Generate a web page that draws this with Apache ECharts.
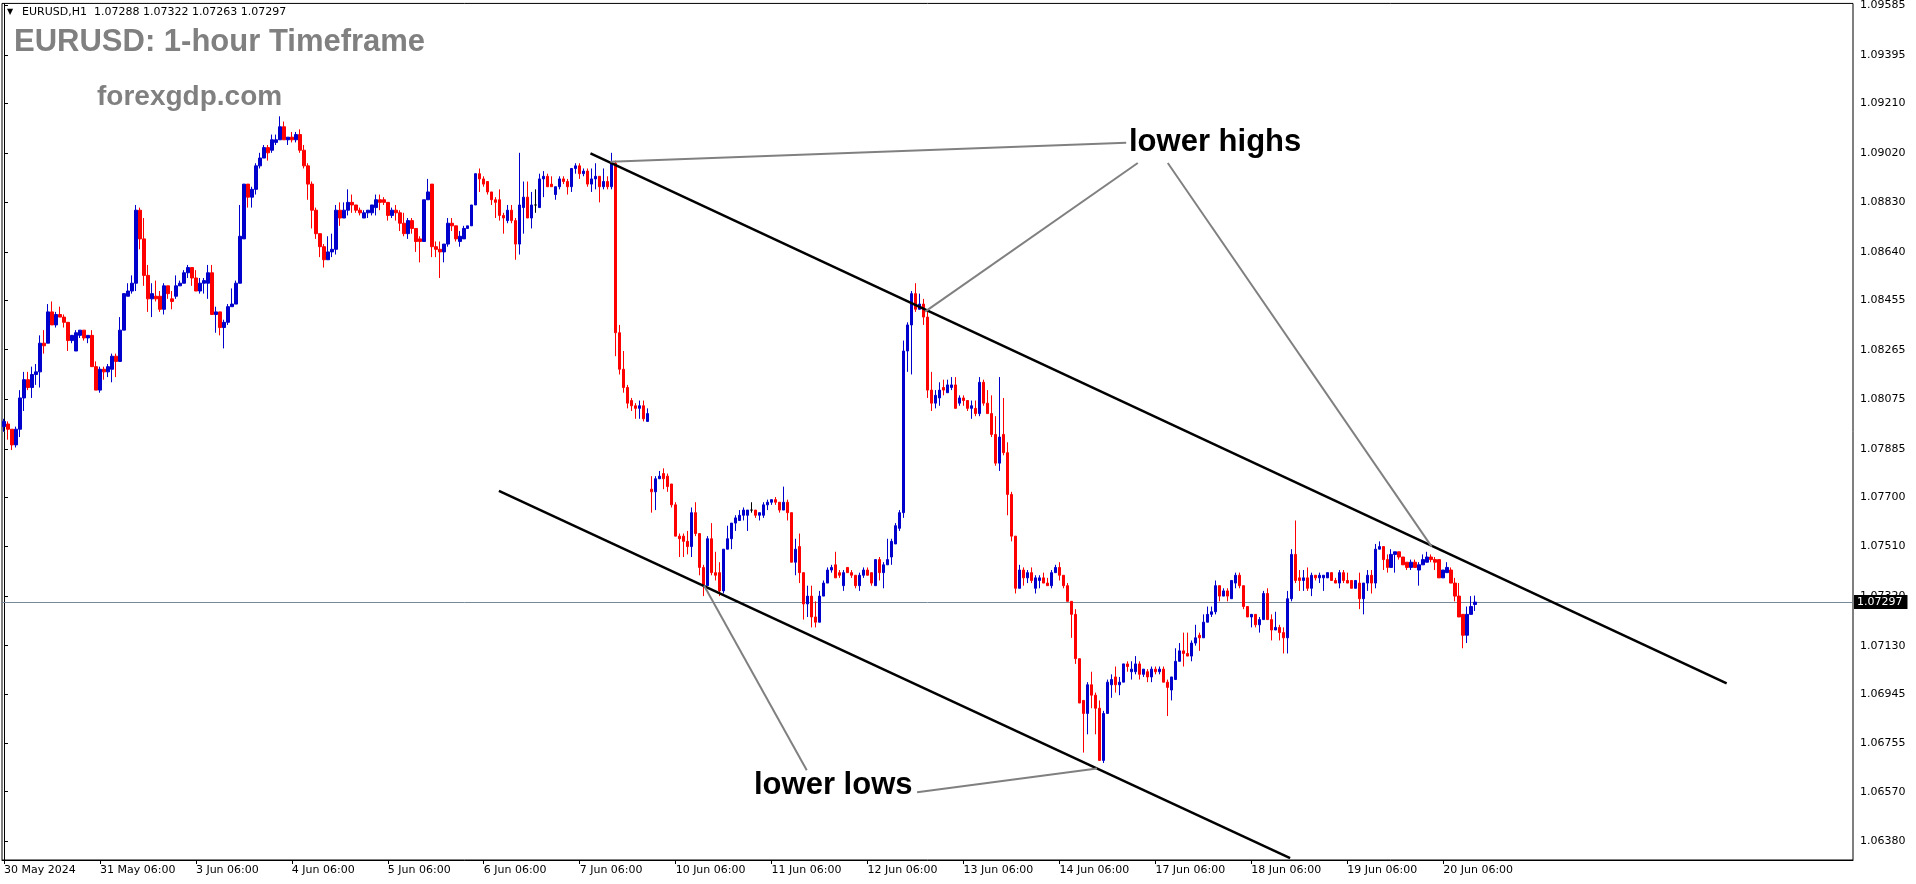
<!DOCTYPE html>
<html><head><meta charset="utf-8">
<script src="https://cdn.jsdelivr.net/npm/echarts@6/dist/echarts.min.js"></script>
<style>html,body{margin:0;padding:0;background:#fff;overflow:hidden}#chart{width:1916px;height:884px}</style>
</head><body><div id="chart"></div>
<script>
// Hourly EURUSD candles per trading day, each row: [open, close, low, high]
const d30May = [
[1.0797,1.0799,1.0795,1.0800],[1.0798,1.0796,1.0792,1.0799],[1.0796,1.0790,1.0788,1.0796],[1.0790,1.0796,1.0789,1.0797],
[1.0796,1.0808,1.0793,1.0811],[1.0808,1.0815,1.0803,1.0818],[1.0815,1.0812,1.0811,1.0818],[1.0812,1.0817,1.0808,1.0820],
[1.0817,1.0818,1.0813,1.0821],[1.0818,1.0829,1.0812,1.0832],[1.0829,1.0828,1.0825,1.0834],[1.0829,1.0841,1.0829,1.0844],
[1.0841,1.0836,1.0836,1.0845],[1.0836,1.0840,1.0835,1.0841],[1.0840,1.0839,1.0839,1.0843],[1.0839,1.0837,1.0835,1.0840],
[1.0837,1.0830,1.0826,1.0837],[1.0830,1.0832,1.0829,1.0832]];
const d31May = [
[1.0826,1.0833,1.0826,1.0834],[1.0832,1.0834,1.0831,1.0834],[1.0834,1.0831,1.0830,1.0834],[1.0831,1.0832,1.0829,1.0832],
[1.0832,1.0820,1.0820,1.0834],[1.0820,1.0811,1.0811,1.0822],[1.0811,1.0819,1.0810,1.0820],[1.0819,1.0818,1.0815,1.0820],
[1.0818,1.0820,1.0816,1.0821],[1.0819,1.0824,1.0814,1.0825],[1.0824,1.0822,1.0816,1.0825],[1.0822,1.0834,1.0822,1.0839],
[1.0834,1.0848,1.0834,1.0848],[1.0847,1.0849,1.0847,1.0852],[1.0849,1.0852,1.0848,1.0855],[1.0852,1.0880,1.0849,1.0882],
[1.0880,1.0869,1.0865,1.0881],[1.0869,1.0855,1.0851,1.0877],[1.0855,1.0846,1.0841,1.0859],[1.0846,1.0848,1.0839,1.0852],
[1.0847,1.0846,1.0845,1.0853],[1.0847,1.0842,1.0841,1.0849],[1.0842,1.0851,1.0840,1.0852],[1.0851,1.0848,1.0846,1.0851]];
const d3Jun = [
[1.0846,1.0845,1.0842,1.0849],[1.0847,1.0851,1.0846,1.0855],[1.0851,1.0852,1.0851,1.0853],[1.0852,1.0856,1.0852,1.0857],
[1.0856,1.0858,1.0854,1.0859],[1.0858,1.0854,1.0851,1.0858],[1.0854,1.0849,1.0849,1.0857],[1.0849,1.0852,1.0848,1.0854],
[1.0852,1.0853,1.0848,1.0854],[1.0852,1.0856,1.0846,1.0859],[1.0856,1.0840,1.0840,1.0859],[1.0840,1.0841,1.0833,1.0843],
[1.0841,1.0835,1.0832,1.0841],[1.0835,1.0837,1.0827,1.0838],[1.0837,1.0843,1.0836,1.0844],[1.0843,1.0844,1.0843,1.0850],
[1.0844,1.0852,1.0844,1.0853],[1.0852,1.0870,1.0852,1.0882],[1.0869,1.0890,1.0869,1.0890],[1.0890,1.0885,1.0881,1.0890],
[1.0885,1.0888,1.0881,1.0889],[1.0888,1.0897,1.0886,1.0898],[1.0897,1.0900,1.0896,1.0902],[1.0900,1.0904,1.0900,1.0905]];
const d4Jun = [
[1.0904,1.0902,1.0899,1.0905],[1.0903,1.0907,1.0902,1.0909],[1.0906,1.0907,1.0905,1.0909],[1.0907,1.0912,1.0907,1.0916],
[1.0912,1.0907,1.0907,1.0914],[1.0907,1.0908,1.0905,1.0908],[1.0908,1.0907,1.0906,1.0910],[1.0907,1.0909,1.0906,1.0910],
[1.0909,1.0903,1.0902,1.0911],[1.0903,1.0897,1.0896,1.0905],[1.0897,1.0890,1.0884,1.0898],[1.0890,1.0880,1.0873,1.0891],
[1.0880,1.0871,1.0869,1.0881],[1.0871,1.0866,1.0862,1.0871],[1.0866,1.0861,1.0858,1.0867],[1.0861,1.0864,1.0861,1.0870],
[1.0864,1.0865,1.0862,1.0871],[1.0865,1.0880,1.0863,1.0882],[1.0880,1.0877,1.0874,1.0883],[1.0877,1.0880,1.0877,1.0883],
[1.0880,1.0883,1.0878,1.0888],[1.0883,1.0882,1.0879,1.0886],[1.0882,1.0880,1.0879,1.0882],[1.0880,1.0879,1.0878,1.0881]];
const d5Jun = [
[1.0877,1.0879,1.0877,1.0880],[1.0879,1.0880,1.0877,1.0880],[1.0879,1.0882,1.0878,1.0882],[1.0881,1.0884,1.0878,1.0886],
[1.0884,1.0883,1.0880,1.0886],[1.0884,1.0883,1.0882,1.0885],[1.0883,1.0878,1.0876,1.0883],[1.0878,1.0880,1.0877,1.0881],
[1.0880,1.0879,1.0876,1.0882],[1.0879,1.0875,1.0872,1.0880],[1.0875,1.0871,1.0870,1.0879],[1.0871,1.0876,1.0869,1.0877],
[1.0876,1.0873,1.0871,1.0877],[1.0873,1.0868,1.0864,1.0873],[1.0869,1.0868,1.0860,1.0870],[1.0868,1.0884,1.0868,1.0884],
[1.0884,1.0887,1.0884,1.0892],[1.0890,1.0866,1.0862,1.0890],[1.0866,1.0865,1.0862,1.0868],[1.0865,1.0864,1.0854,1.0868],
[1.0864,1.0867,1.0860,1.0867],[1.0867,1.0875,1.0866,1.0877],[1.0875,1.0874,1.0872,1.0877],[1.0874,1.0869,1.0868,1.0874]];
const d6Jun = [
[1.0868,1.0870,1.0866,1.0872],[1.0869,1.0873,1.0869,1.0874],[1.0873,1.0874,1.0873,1.0874],[1.0874,1.0882,1.0874,1.0882],
[1.0882,1.0894,1.0882,1.0894],[1.0894,1.0892,1.0887,1.0896],[1.0892,1.0890,1.0889,1.0893],[1.0891,1.0887,1.0886,1.0891],
[1.0887,1.0884,1.0882,1.0887],[1.0884,1.0883,1.0877,1.0885],[1.0884,1.0878,1.0876,1.0888],[1.0878,1.0877,1.0871,1.0879],
[1.0876,1.0880,1.0875,1.0882],[1.0880,1.0876,1.0875,1.0882],[1.0876,1.0867,1.0861,1.0877],[1.0867,1.0882,1.0863,1.0902],
[1.0881,1.0885,1.0871,1.0891],[1.0885,1.0877,1.0877,1.0891],[1.0877,1.0882,1.0873,1.0887],[1.0882,1.0882,1.0879,1.0888],
[1.0881,1.0892,1.0881,1.0894],[1.0892,1.0893,1.0885,1.0895],[1.0893,1.0889,1.0889,1.0894],[1.0890,1.0889,1.0889,1.0893]];
const d7Jun = [
[1.0886,1.0889,1.0884,1.0889],[1.0889,1.0892,1.0888,1.0893],[1.0892,1.0891,1.0890,1.0893],[1.0891,1.0889,1.0886,1.0892],
[1.0889,1.0896,1.0887,1.0896],[1.0896,1.0897,1.0894,1.0898],[1.0897,1.0894,1.0892,1.0898],[1.0894,1.0895,1.0893,1.0896],
[1.0895,1.0890,1.0889,1.0896],[1.0890,1.0892,1.0887,1.0896],[1.0892,1.0893,1.0888,1.0898],[1.0893,1.0889,1.0883,1.0893],
[1.0889,1.0891,1.0888,1.0896],[1.0891,1.0889,1.0888,1.0893],[1.0889,1.0898,1.0888,1.0902],[1.0898,1.0833,1.0824,1.0899],
[1.0833,1.0819,1.0817,1.0836],[1.0819,1.0812,1.0810,1.0826],[1.0812,1.0806,1.0804,1.0813],[1.0807,1.0805,1.0803,1.0808],
[1.0805,1.0804,1.0800,1.0806],[1.0804,1.0805,1.0800,1.0807],[1.0805,1.0800,1.0799,1.0807],[1.0799,1.0802,1.0799,1.0804]];
const d10Jun = [
[1.0773,1.0772,1.0764,1.0778],[1.0772,1.0777,1.0765,1.0778],[1.0777,1.0778,1.0777,1.0780],[1.0779,1.0777,1.0773,1.0781],
[1.0778,1.0774,1.0772,1.0779],[1.0775,1.0767,1.0766,1.0775],[1.0767,1.0755,1.0755,1.0768],[1.0755,1.0754,1.0747,1.0756],
[1.0755,1.0753,1.0747,1.0756],[1.0753,1.0751,1.0748,1.0757],[1.0751,1.0764,1.0747,1.0766],[1.0764,1.0756,1.0755,1.0768],
[1.0756,1.0743,1.0740,1.0756],[1.0743,1.0736,1.0732,1.0744],[1.0736,1.0754,1.0736,1.0755],[1.0754,1.0741,1.0740,1.0760],
[1.0741,1.0740,1.0738,1.0749],[1.0741,1.0734,1.0732,1.0745],[1.0734,1.0750,1.0733,1.0750],[1.0750,1.0754,1.0750,1.0759],
[1.0754,1.0760,1.0750,1.0760],[1.0760,1.0762,1.0757,1.0763],[1.0761,1.0763,1.0761,1.0765],[1.0763,1.0765,1.0761,1.0766]];
const d11Jun = [
[1.0763,1.0765,1.0757,1.0765],[1.0765,1.0765,1.0764,1.0768],[1.0765,1.0763,1.0762,1.0765],[1.0763,1.0764,1.0761,1.0764],
[1.0763,1.0767,1.0762,1.0768],[1.0767,1.0768,1.0765,1.0769],[1.0768,1.0769,1.0767,1.0769],[1.0769,1.0768,1.0767,1.0770],
[1.0768,1.0765,1.0764,1.0768],[1.0765,1.0768,1.0765,1.0774],[1.0768,1.0764,1.0761,1.0769],[1.0764,1.0745,1.0745,1.0764],
[1.0745,1.0750,1.0740,1.0754],[1.0751,1.0741,1.0737,1.0756],[1.0741,1.0729,1.0723,1.0741],[1.0729,1.0732,1.0724,1.0736],
[1.0732,1.0724,1.0720,1.0736],[1.0724,1.0722,1.0720,1.0730],[1.0722,1.0732,1.0722,1.0734],[1.0732,1.0737,1.0732,1.0738],
[1.0737,1.0742,1.0737,1.0743],[1.0742,1.0743,1.0741,1.0744],[1.0744,1.0739,1.0739,1.0749],[1.0741,1.0740,1.0739,1.0742]];
const d12Jun = [
[1.0736,1.0741,1.0734,1.0742],[1.0743,1.0741,1.0741,1.0743],[1.0741,1.0740,1.0739,1.0742],[1.0740,1.0736,1.0735,1.0740],
[1.0736,1.0740,1.0734,1.0741],[1.0740,1.0742,1.0739,1.0743],[1.0742,1.0740,1.0740,1.0743],[1.0741,1.0737,1.0736,1.0741],
[1.0736,1.0746,1.0736,1.0746],[1.0746,1.0741,1.0738,1.0747],[1.0741,1.0744,1.0735,1.0745],[1.0744,1.0746,1.0744,1.0754],
[1.0747,1.0753,1.0744,1.0754],[1.0752,1.0759,1.0752,1.0760],[1.0758,1.0764,1.0757,1.0765],[1.0764,1.0826,1.0762,1.0830],
[1.0826,1.0836,1.0818,1.0837],[1.0836,1.0848,1.0817,1.0849],[1.0848,1.0842,1.0841,1.0852],[1.0842,1.0844,1.0842,1.0848],
[1.0844,1.0839,1.0836,1.0846],[1.0839,1.0811,1.0808,1.0841],[1.0811,1.0806,1.0803,1.0818],[1.0806,1.0809,1.0804,1.0811]];
const d13Jun = [
[1.0808,1.0811,1.0805,1.0814],[1.0812,1.0811,1.0809,1.0815],[1.0810,1.0813,1.0810,1.0815],[1.0812,1.0813,1.0811,1.0816],
[1.0813,1.0804,1.0804,1.0816],[1.0806,1.0808,1.0805,1.0809],[1.0808,1.0807,1.0805,1.0809],[1.0807,1.0804,1.0803,1.0807],
[1.0804,1.0805,1.0800,1.0807],[1.0804,1.0802,1.0801,1.0807],[1.0802,1.0814,1.0801,1.0816],[1.0814,1.0806,1.0805,1.0815],
[1.0806,1.0802,1.0802,1.0811],[1.0802,1.0794,1.0793,1.0809],[1.0794,1.0783,1.0782,1.0801],[1.0783,1.0793,1.0780,1.0816],
[1.0794,1.0787,1.0786,1.0808],[1.0787,1.0771,1.0763,1.0791],[1.0771,1.0755,1.0753,1.0772],[1.0755,1.0735,1.0733,1.0755],
[1.0735,1.0742,1.0735,1.0744],[1.0742,1.0739,1.0736,1.0743],[1.0739,1.0741,1.0737,1.0742],[1.0741,1.0738,1.0737,1.0743]];
const d14Jun = [
[1.0735,1.0739,1.0733,1.0740],[1.0738,1.0739,1.0735,1.0740],[1.0739,1.0737,1.0737,1.0741],[1.0737,1.0736,1.0736,1.0739],
[1.0736,1.0741,1.0735,1.0742],[1.0741,1.0743,1.0741,1.0744],[1.0743,1.0740,1.0738,1.0745],[1.0740,1.0736,1.0735,1.0740],
[1.0736,1.0730,1.0730,1.0737],[1.0730,1.0725,1.0716,1.0730],[1.0725,1.0708,1.0706,1.0727],[1.0708,1.0691,1.0691,1.0708],
[1.0692,1.0687,1.0672,1.0692],[1.0687,1.0698,1.0679,1.0699],[1.0698,1.0694,1.0689,1.0703],[1.0694,1.0689,1.0679,1.0695],
[1.0689,1.0669,1.0669,1.0692],[1.0669,1.0687,1.0668,1.0688],[1.0687,1.0699,1.0687,1.0700],[1.0698,1.0700,1.0693,1.0702],
[1.0701,1.0698,1.0695,1.0705],[1.0698,1.0699,1.0694,1.0701],[1.0699,1.0706,1.0699,1.0706],[1.0706,1.0705,1.0703,1.0707]];
const d17Jun = [
[1.0703,1.0704,1.0700,1.0707],[1.0703,1.0706,1.0702,1.0709],[1.0706,1.0702,1.0700,1.0707],[1.0702,1.0704,1.0701,1.0704],
[1.0703,1.0701,1.0699,1.0704],[1.0701,1.0704,1.0699,1.0705],[1.0704,1.0703,1.0702,1.0705],[1.0703,1.0704,1.0702,1.0705],
[1.0704,1.0699,1.0699,1.0705],[1.0699,1.0697,1.0686,1.0700],[1.0696,1.0701,1.0692,1.0701],[1.0700,1.0707,1.0700,1.0712],
[1.0707,1.0711,1.0707,1.0714],[1.0711,1.0710,1.0705,1.0718],[1.0710,1.0709,1.0709,1.0718],[1.0709,1.0714,1.0707,1.0715],
[1.0714,1.0716,1.0713,1.0721],[1.0717,1.0716,1.0711,1.0718],[1.0716,1.0722,1.0716,1.0725],[1.0722,1.0725,1.0722,1.0728],
[1.0725,1.0726,1.0724,1.0728],[1.0726,1.0736,1.0725,1.0738],[1.0736,1.0732,1.0730,1.0736],[1.0732,1.0734,1.0732,1.0735]];
const d18Jun = [
[1.0734,1.0732,1.0730,1.0735],[1.0731,1.0738,1.0731,1.0738],[1.0737,1.0740,1.0735,1.0741],[1.0740,1.0736,1.0735,1.0741],
[1.0736,1.0728,1.0727,1.0736],[1.0728,1.0724,1.0724,1.0728],[1.0724,1.0725,1.0720,1.0725],[1.0725,1.0721,1.0720,1.0725],
[1.0721,1.0723,1.0718,1.0724],[1.0723,1.0733,1.0723,1.0734],[1.0733,1.0723,1.0723,1.0735],[1.0723,1.0719,1.0715,1.0725],
[1.0719,1.0720,1.0719,1.0726],[1.0720,1.0718,1.0715,1.0721],[1.0718,1.0716,1.0710,1.0720],[1.0716,1.0731,1.0710,1.0734],
[1.0731,1.0748,1.0730,1.0750],[1.0748,1.0738,1.0737,1.0761],[1.0739,1.0738,1.0734,1.0742],[1.0738,1.0739,1.0734,1.0742],
[1.0739,1.0735,1.0734,1.0743],[1.0735,1.0740,1.0732,1.0741],[1.0740,1.0739,1.0738,1.0740],[1.0739,1.0740,1.0737,1.0741]];
const d19Jun = [
[1.0739,1.0740,1.0734,1.0740],[1.0739,1.0741,1.0739,1.0741],[1.0741,1.0738,1.0738,1.0741],[1.0738,1.0737,1.0737,1.0739],
[1.0737,1.0741,1.0735,1.0742],[1.0741,1.0738,1.0737,1.0742],[1.0738,1.0737,1.0737,1.0741],[1.0738,1.0735,1.0735,1.0738],
[1.0735,1.0738,1.0735,1.0738],[1.0737,1.0731,1.0727,1.0741],[1.0731,1.0737,1.0725,1.0737],[1.0737,1.0740,1.0734,1.0742],
[1.0740,1.0737,1.0733,1.0742],[1.0737,1.0750,1.0735,1.0752],[1.0750,1.0751,1.0750,1.0753],[1.0751,1.0746,1.0742,1.0751],
[1.0746,1.0743,1.0741,1.0748],[1.0743,1.0748,1.0743,1.0750],[1.0748,1.0749,1.0741,1.0749],[1.0749,1.0747,1.0746,1.0749],
[1.0747,1.0744,1.0744,1.0747],[1.0745,1.0743,1.0742,1.0745],[1.0743,1.0745,1.0742,1.0746],[1.0745,1.0743,1.0743,1.0746]];
const d20Jun = [
[1.0742,1.0744,1.0736,1.0745],[1.0744,1.0746,1.0744,1.0748],[1.0745,1.0747,1.0745,1.0749],[1.0747,1.0746,1.0745,1.0748],
[1.0746,1.0745,1.0742,1.0747],[1.0746,1.0739,1.0739,1.0746],[1.0739,1.0742,1.0739,1.0742],[1.0741,1.0743,1.0741,1.0745],
[1.0742,1.0737,1.0737,1.0743],[1.0737,1.0732,1.0730,1.0739],[1.0732,1.0724,1.0724,1.0737],[1.0725,1.0717,1.0712,1.0725],
[1.0717,1.0725,1.0714,1.0728],[1.0725,1.0728,1.0725,1.0732],[1.07288,1.07297,1.07263,1.07322]];

const dayLabels = ['30 May','31 May','3 Jun','4 Jun','5 Jun','6 Jun','7 Jun','10 Jun','11 Jun','12 Jun','13 Jun','14 Jun','17 Jun','18 Jun','19 Jun','20 Jun'];
const dayCandles = [d30May,d31May,d3Jun,d4Jun,d5Jun,d6Jun,d7Jun,d10Jun,d11Jun,d12Jun,d13Jun,d14Jun,d17Jun,d18Jun,d19Jun,d20Jun];
const firstHour = 6;
const firstLabel = '30 May 2024';
const totalSlots = 463; // chart width in hourly slots, incl. empty right margin

const yTickLabels = [1.09585,1.09395,1.09210,1.09020,1.08830,1.08640,1.08455,1.08265,1.08075,1.07885,
                     1.07700,1.07510,1.07320,1.07130,1.06945,1.06755,1.06570,1.06380];
const yMin = 1.06308, yMax = 1.09593;
const headerText = 'EURUSD,H1  1.07288 1.07322 1.07263 1.07297';
const lastPrice = 1.07297;

// trend lines: [bar index, price]
const upperChannel = [[146.7,1.09018],[430.9,1.06985]];
const lowerChannel = [[123.8,1.07724],[321.7,1.06315]];
const highLinkA = [[151.7,1.08986],[280.7,1.09059]];
const highLinkB = [[230.4,1.08411],[283.6,1.08981]];
const highLinkC = [[291.1,1.08981],[357.1,1.07510]];
const lowLinkA = [[175.1,1.07361],[200.8,1.06652]];
const lowLinkB = [[228.4,1.06568],[273.4,1.06659]];

// build category axis + candle table
const categories = [], candles = [];
dayCandles.forEach((rows, k) => {
  rows.forEach((r, j) => {
    const h = (k === 0 ? firstHour : 0) + j;
    categories.push(dayLabels[k] + ' ' + String(h).padStart(2,'0') + ':00');
    candles.push(r);
  });
});
while (categories.length < totalSlots) categories.push('');

const isLabel = (i, v) => typeof v === 'string' && v.endsWith(' 06:00');
const FONT = 'DejaVu Sans';
const chart = echarts.init(document.getElementById('chart'), null, {renderer:'canvas'});

function lineSeries(data, color, width) {
  return { type:'line', xAxisIndex:1, yAxisIndex:0, data, symbol:'none', silent:true, z:5,
           lineStyle:{color, width, type:'solid'}, animation:false, emphasis:{disabled:true} };
}

chart.setOption({
  animation:false,
  backgroundColor:'#ffffff',
  grid:{left:2, right:63, top:2, bottom:24, show:true, borderColor:'#000', borderWidth:1, backgroundColor:'#fff'},
  xAxis:[{
    type:'category', data:categories, boundaryGap:true, position:'bottom',
    axisLine:{show:true, lineStyle:{color:'#000', width:1}},
    axisTick:{show:true, alignWithLabel:true, length:4, interval:isLabel, lineStyle:{color:'#000'}},
    axisLabel:{interval:isLabel, align:'left', fontFamily:FONT, fontSize:11, color:'#000', margin:5,
      formatter:(v, i) => i === 0 ? firstLabel : v},
    splitLine:{show:false}
  },{
    type:'value', min:-0.5, max:totalSlots-0.5, show:false
  }],
  yAxis:{
    type:'value', position:'right', min:yMin, max:yMax, scale:true,
    axisLine:{show:true, lineStyle:{color:'#000', width:1}},
    axisTick:{show:true, length:4, customValues:yTickLabels, lineStyle:{color:'#000'}},
    axisLabel:{customValues:yTickLabels, formatter:v => v.toFixed(5), fontFamily:FONT, fontSize:11, color:'#000', margin:7},
    splitLine:{show:false}
  },
  series:[
    { type:'candlestick', xAxisIndex:0, yAxisIndex:0, data:candles, barWidth:3, z:3,
      itemStyle:{color:'#0000cd', color0:'#ff0000', borderColor:'#0000cd', borderColor0:'#ff0000', borderColorDoji:'#000000', borderWidth:1},
      emphasis:{disabled:true},
      markLine:{ silent:true, symbol:['none','none'], animation:false, z:2, precision:5,
        data:[{yAxis:lastPrice}],
        lineStyle:{color:'#778899', width:1, type:'solid'},
        label:{position:'end', formatter:lastPrice.toFixed(5), backgroundColor:'#000', color:'#fff',
               fontFamily:FONT, fontSize:11, padding:[2,5,1,3], distance:1},
        emphasis:{disabled:true}
      }
    },
    lineSeries(upperChannel, '#000000', 2.5),
    lineSeries(lowerChannel, '#000000', 2.5),
    lineSeries(highLinkA, '#808080', 2),
    lineSeries(highLinkB, '#808080', 2),
    lineSeries(highLinkC, '#808080', 2),
    lineSeries(lowLinkA, '#808080', 2),
    lineSeries(lowLinkB, '#808080', 2)
  ],
  graphic:[
    {type:'text', x:7, y:12, z:10, style:{text:'▼', font:'8px "DejaVu Sans"', fill:'#000', verticalAlign:'middle'}},
    {type:'text', x:22, y:12.5, z:10, style:{text:headerText, font:'11px "DejaVu Sans"', fill:'#000', verticalAlign:'middle'}},
    {type:'text', x:14, y:42.5, z:10, style:{text:'EURUSD: 1-hour Timeframe', font:'bold 31px "Liberation Sans"', fill:'#808080', verticalAlign:'middle'}},
    {type:'text', x:97, y:97.5, z:10, style:{text:'forexgdp.com', font:'bold 28px "Liberation Sans"', fill:'#808080', verticalAlign:'middle'}},
    {type:'text', x:1129, y:142.5, z:10, style:{text:'lower highs', font:'bold 31px "Liberation Sans"', fill:'#000', verticalAlign:'middle'}},
    {type:'text', x:754, y:785, z:10, style:{text:'lower lows', font:'bold 31px "Liberation Sans"', fill:'#000', verticalAlign:'middle'}}
  ]
});
</script></body></html>
